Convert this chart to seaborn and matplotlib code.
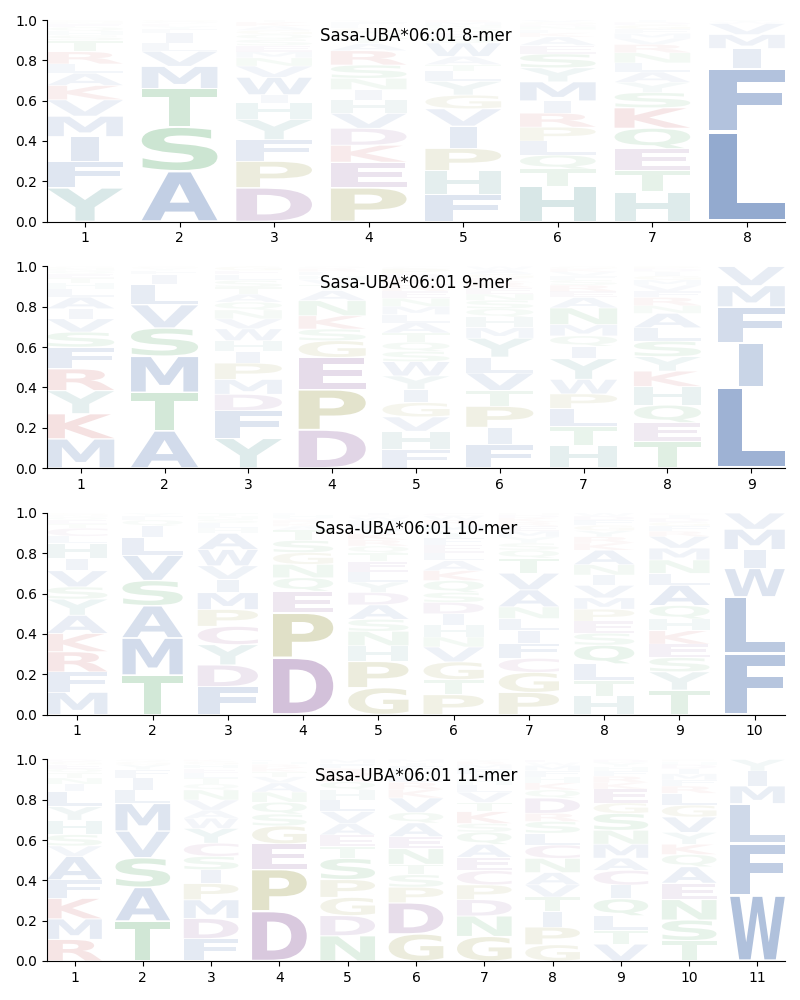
import matplotlib
matplotlib.use("Agg")
import matplotlib.pyplot as plt
import seaborn as sns
from matplotlib.textpath import TextPath
from matplotlib.patches import PathPatch
from matplotlib.font_manager import FontProperties
from matplotlib.transforms import Affine2D

allele = "Sasa-UBA*06:01"

# ---- 8-mer: letters bottom->top and heights per position ----
letters_8 = [
    "YFIMVKALRTSHQENG",
    "ASTMVLIFYEQG",
    "DPFYHIWVNMESQGAKT",
    "PEKDVHINSRATQGLFY",
    "FHPIVGYLTAWSEQNMR",
    "HTQLPRIMYSEAKFNDGV",
    "HTEQKSYALNRVMFGDI",
    "LFIMVWY",
]
heights_8 = [
    [.165, .13, .12, .10, .08, .07, .06, .045, .06, .055, .025, .02, .02, .015, .01, .01],
    [.25, .22, .19, .11, .075, .04, .05, .02, .015, .012, .01, .008],
    [.165, .13, .105, .10, .08, .04, .085, .055, .04, .03, .03, .03, .025, .02, .02, .02, .01],
    [.165, .125, .083, .083, .073, .066, .05, .055, .065, .07, .035, .03, .025, .02, .015, .015, .01],
    [.13, .115, .107, .107, .083, .066, .066, .05, .03, .04, .065, .03, .02, .02, .015, .015, .01],
    [.165, .083, .066, .066, .066, .066, .058, .09, .066, .066, .04, .04, .02, .015, .015, .01, .01, .01],
    [.145, .105, .107, .10, .10, .075, .05, .05, .045, .05, .04, .03, .025, .02, .02, .015, .01],
    [.45, .32, .10, .07, .055, .01, .008],
]

# ---- 9-mer ----
letters_9 = [
    "MKYRFSVIALHTEQNG",
    "ATMSVLIFYG",
    "YFDMPIHWVNQATSLEG",
    "DPEGSKNATVHLRQ",
    "FHVGIYWSQTALMNERKDPC",
    "FIPTVLYMHQSNERKGAW",
    "HTLPWYIQMNAERSFVKG",
    "TEQHKYSLANRFVMGIDP",
    "LIFMV",
]
heights_9 = [
    [.145, .125, .115, .108, .108, .075, .066, .05, .058, .04, .03, .025, .02, .015, .012, .01],
    [.185, .19, .18, .14, .115, .10, .05, .02, .012, .008],
    [.15, .14, .083, .075, .083, .058, .055, .06, .05, .045, .04, .04, .035, .035, .03, .02, .02],
    [.19, .20, .16, .083, .058, .066, .075, .05, .03, .025, .02, .02, .015, .01],
    [.09, .09, .07, .07, .065, .065, .07, .05, .045, .045, .05, .04, .04, .04, .035, .03, .03, .025, .025, .01],
    [.11, .083, .10, .075, .083, .075, .09, .05, .05, .04, .04, .03, .03, .025, .02, .02, .02, .015],
    [.11, .09, .088, .07, .07, .10, .06, .05, .055, .08, .05, .03, .03, .025, .02, .02, .015, .01],
    [.13, .09, .085, .09, .075, .07, .075, .065, .07, .037, .04, .03, .03, .025, .02, .02, .015, .01],
    [.40, .22, .18, .105, .095],
]

# ---- 10-mer ----
letters_10 = [
    "MFRKAYSVIHLCTEQNG",
    "TMASVLIQFY",
    "FDYCPMIVWAHLSNT",
    "DPEQNGSTAKRVHL",
    "GPHNSADYLETQRKVFMWCI",
    "PTGVNHIDSQKALEFYMRWC",
    "PGCFILNAVTQSYMERKDH",
    "HTLQSEPMVINAKRYGFDW",
    "TYSEKHQALNMVRFGDIC",
    "FLWIMV",
]
heights_10 = [
    [.11, .10, .10, .09, .09, .08, .06, .08, .06, .075, .035, .04, .02, .02, .015, .01, .01],
    [.195, .185, .16, .125, .125, .09, .055, .03, .02, .015],
    [.137, .107, .10, .09, .083, .083, .066, .066, .08, .08, .025, .025, .02, .015, .015],
    [.28, .22, .107, .066, .066, .058, .06, .05, .02, .015, .015, .01, .015, .01],
    [.13, .127, .076, .07, .058, .07, .06, .05, .05, .05, .04, .035, .03, .03, .025, .02, .02, .015, .01, .01],
    [.10, .075, .09, .075, .05, .06, .057, .057, .05, .06, .05, .05, .04, .04, .035, .035, .03, .025, .02, .015],
    [.11, .10, .07, .075, .065, .058, .058, .085, .083, .075, .04, .035, .03, .03, .025, .02, .02, .015, .01],
    [.09, .075, .08, .09, .058, .058, .058, .055, .06, .05, .05, .07, .035, .03, .03, .025, .025, .02, .015],
    [.12, .09, .07, .066, .066, .058, .066, .10, .058, .066, .058, .058, .025, .025, .02, .02, .015, .01],
    [.30, .28, .14, .093, .10, .08],
]

# ---- 11-mer ----
letters_11 = [
    "RMKFAVSHYLINTQEGD",
    "TASVMLIFYGQ",
    "FDMPISCYWAVNQTLEHGK",
    "DPEGSQNAVTKRHL",
    "NDGPSTEAVLHQKRFM",
    "GDPSTNEAQVKRLHFIM",
    "GNDPCEAQSKTVLHIFMRY",
    "GPITVANCLSRDQKHFMWE",
    "VTLQICAMNSGEKRFHYD",
    "TSNEAQKYVGLRFMIDHP",
    "WFLMIY",
]
heights_11 = [
    [.105, .10, .10, .09, .115, .05, .055, .07, .066, .075, .035, .03, .025, .02, .02, .015, .01],
    [.195, .165, .145, .13, .135, .065, .06, .04, .025, .015, .01],
    [.11, .10, .092, .08, .068, .066, .065, .073, .05, .04, .05, .05, .03, .03, .025, .02, .02, .015, .01],
    [.245, .205, .125, .088, .058, .058, .05, .045, .03, .025, .02, .015, .015, .01],
    [.125, .10, .09, .088, .105, .058, .058, .058, .058, .058, .05, .04, .035, .03, .025, .02],
    [.13, .15, .075, .06, .05, .075, .058, .066, .05, .07, .04, .035, .03, .025, .025, .015, .015],
    [.12, .10, .08, .072, .07, .065, .063, .06, .042, .058, .045, .05, .035, .03, .025, .025, .02, .015, .01],
    [.08, .087, .078, .07, .06, .06, .07, .066, .058, .058, .04, .075, .04, .035, .03, .03, .025, .015, .015],
    [.08, .065, .07, .08, .065, .07, .058, .066, .066, .08, .05, .066, .03, .03, .025, .02, .02, .015],
    [.10, .10, .10, .08, .08, .06, .05, .058, .075, .058, .058, .035, .03, .03, .025, .02, .015, .01],
    [.33, .26, .20, .088, .075, .058],
]

panels = [
    ("8-mer", letters_8, heights_8),
    ("9-mer", letters_9, heights_9),
    ("10-mer", letters_10, heights_10),
    ("11-mer", letters_11, heights_11),
]

deep = sns.color_palette("deep")
blue, green, red = deep[0], deep[2], deep[3]
purple = "#8d5d9e"
olive = "#989843"
teal = "#5b9b9b"
cpink = "#a0609a"
color_of = {}
for aa in "AVLIMFW":
    color_of[aa] = blue
for aa in "STNQ":
    color_of[aa] = green
for aa in "DE":
    color_of[aa] = purple
for aa in "KR":
    color_of[aa] = red
for aa in "PG":
    color_of[aa] = olive
for aa in "HY":
    color_of[aa] = teal
color_of["C"] = cpink

fp = FontProperties(family="DejaVu Sans", weight="bold")
glyphs = {}


def glyph(ch):
    if ch not in glyphs:
        glyphs[ch] = TextPath((0, 0), ch, size=1, prop=fp)
    return glyphs[ch]


def draw_letter(ax, ch, xc, ybase, h, color, alpha, width=0.8, vpad=0.05):
    tp = glyph(ch)
    bb = tp.get_extents()
    w = width * (0.36 if ch == "I" else 1.0)
    hh = h * (1 - vpad)
    yb = ybase + h * vpad / 2
    tr = (Affine2D().translate(-bb.x0, -bb.y0)
          .scale(w / bb.width, hh / bb.height)
          .translate(xc - w / 2, yb))
    ax.add_patch(PathPatch(tr.transform_path(tp), facecolor=color,
                           edgecolor="none", alpha=alpha, zorder=2))


fig, axes = plt.subplots(4, 1, figsize=(8, 10), dpi=100)
fig.subplots_adjust(left=0.059, right=0.981, top=0.98, bottom=0.039, hspace=0.223)

for ax, (label, lets, hts) in zip(axes, panels):
    n = len(lets)
    for i, (s, hs) in enumerate(zip(lets, hts)):
        total = sum(hs)
        y = 0.0
        for ch, h in zip(s, hs):
            hn = h / total
            a = min(1.0, 1.35 * hn)
            draw_letter(ax, ch, i + 1, y, hn, color_of[ch], a)
            y += hn
    ax.set_xlim(0.6, n + 0.4)
    ax.set_ylim(0, 1)
    ax.set_xticks(range(1, n + 1))
    ax.set_yticks([0, 0.2, 0.4, 0.6, 0.8, 1.0])
    sns.despine(ax=ax)
    ax.text(0.5, 0.92, f"{allele} {label}", transform=ax.transAxes,
            ha="center", va="center", fontsize=12, zorder=5)

fig.savefig("out.png", dpi=100)
